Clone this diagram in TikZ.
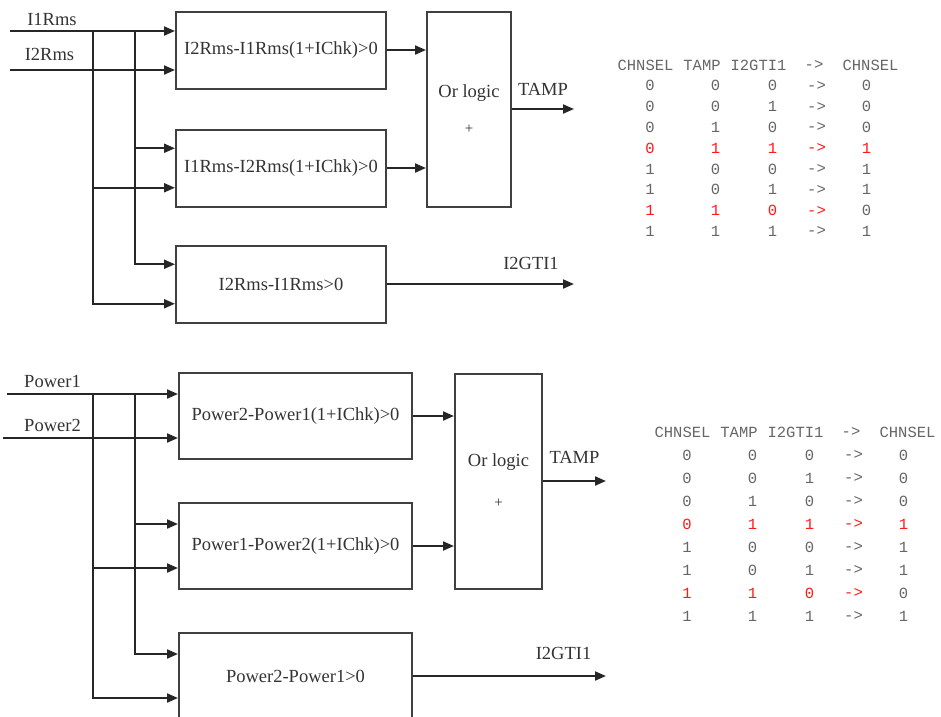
\documentclass[tikz,border=0pt]{standalone}
\usepackage{fontspec}
\setmainfont{Liberation Serif}
\newfontfamily\tabfont{Liberation Mono}
\usepackage{xcolor}
\usetikzlibrary{arrows.meta, positioning, calc}

\colorlet{tabgray}{black!60}
\colorlet{tabred}{red!90!white}

\begin{document}
\begin{tikzpicture}[
    x=1pt, y=-1pt,
    every node/.style={font=\fontsize{18.5}{22}\selectfont, text=black!80},
    blk/.style={draw=black!75, line width=2pt, minimum width=210pt,
                minimum height=77pt, inner sep=0pt},
    pblk/.style={blk, minimum width=233pt, minimum height=86pt},
    orblk/.style={blk, align=center},
    arr/.style={-{Triangle[length=11pt,width=9pt]}, line width=2pt, black!85},
    cell/.style={font=\tabfont\fontsize{15.5}{18}\selectfont, text=tabgray},
  ]
    \clip (0,0) rectangle (941,716);

    % I1Rms / I2Rms
    \node[blk] (b1) at (281,50)  {I2Rms-I1Rms(1+IChk)>0};
    \node[blk] (b2) at (281,168) {I1Rms-I2Rms(1+IChk)>0};
    \node[blk] (b3) at (281,284) {I2Rms-I1Rms>0};
    \node[orblk, minimum width=84pt, minimum height=195pt] (or1) at (469,109)
         {Or logic\\[14pt]{\fontsize{15}{16}\selectfont +}};

    % Power1 / Power2
    \node[pblk] (c1) at (295.5,416) {Power2-Power1(1+IChk)>0};
    \node[pblk] (c2) at (295.5,546) {Power1-Power2(1+IChk)>0};
    \node[pblk] (c3) at (295.5,676) {Power2-Power1>0};
    \node[orblk, minimum width=87pt, minimum height=215pt] (or2) at (498.5,481)
         {Or logic\\[19pt]{\fontsize{15}{16}\selectfont +}};

    % input points of each comparator
    \foreach \b in {b1,b2,b3,c1,c2,c3}{
      \coordinate (\b-u) at ($(\b.north west)!0.25!(\b.south west)$);
      \coordinate (\b-l) at ($(\b.north west)!0.75!(\b.south west)$);
    }

    % top inputs
    \node (l1) at (52,19)     {I1Rms};
    \node (l2) at (49.5,54.5) {I2Rms};
    \coordinate (s1) at (10,31);
    \coordinate (s2) at (10,70);
    \coordinate (j1) at (93,31);
    \coordinate (j2) at (135,31);
    \draw[arr] (s1) -- (b1.west |- s1);
    \draw[arr] (s2) -- (b1.west |- s2);
    \draw[arr] (j2) |- (b2-u);
    \draw[arr] (j1) |- (b2-l);
    \draw[arr] (j2) |- (b3-u);
    \draw[arr] (j1) |- (b3-l);

    % top outputs
    \draw[arr] (b1.east) -- (or1.west |- b1.east);
    \draw[arr] (b2.east) -- (or1.west |- b2.east);
    \draw[arr] (or1.east) -- ++(62,0) node[midway, above=9pt] (o1) {TAMP};
    \draw[arr] (b3.east) -- ++(187,0) node[pos=0.77, above=10pt] (o2) {I2GTI1};

    % bottom inputs
    \node (l3) at (52.5,381.5) {Power1};
    \node (l4) at (52.5,425.5) {Power2};
    \coordinate (s3) at (7,394);
    \coordinate (s4) at (3,438);
    \coordinate (j3) at (93,394);
    \coordinate (j4) at (135,394);
    \draw[arr] (s3) -- (c1.west |- s3);
    \draw[arr] (s4) -- (c1.west |- s4);
    \draw[arr] (j4) |- (c2-u);
    \draw[arr] (j3) |- (c2-l);
    \draw[arr] (j4) |- (c3-u);
    \draw[arr] (j3) |- (c3-l);

    % bottom outputs
    \draw[arr] (c1.east) -- (or2.west |- c1.east);
    \draw[arr] (c2.east) -- (or2.west |- c2.east);
    \draw[arr] (or2.east) -- ++(63,0) node[midway, above=13pt] (o3) {TAMP};
    \draw[arr] (c3.east) -- ++(193,0) node[pos=0.78, above=12.5pt] (o4) {I2GTI1};

    % truth tables
    \foreach \tx/\ty/\ts/\tn in {0/65/20.8/u, 37/432/23/d}{
      \foreach \h/\hx [count=\k] in {CHNSEL/645.5, TAMP/702, I2GTI1/758.5, ->/814, CHNSEL/870.5}
        \node[cell] (\tn-h\k) at (\hx+\tx, \ty) {\h};
      \foreach \a/\b/\c/\d/\ca/\cd [count=\i] in
          {0/0/0/0/tabgray/tabgray, 0/0/1/0/tabgray/tabgray,
           0/1/0/0/tabgray/tabgray, 0/1/1/1/tabred/tabred,
           1/0/0/1/tabgray/tabgray, 1/0/1/1/tabgray/tabgray,
           1/1/0/0/tabred/tabgray,  1/1/1/1/tabgray/tabgray}{
        \node[cell, text=\ca] (\tn-\i-1) at (650+\tx,   \ty+\i*\ts) {\a};
        \node[cell, text=\ca] (\tn-\i-2) at (715.5+\tx, \ty+\i*\ts) {\b};
        \node[cell, text=\ca] (\tn-\i-3) at (772.5+\tx, \ty+\i*\ts) {\c};
        \node[cell, text=\ca] (\tn-\i-4) at (816.5+\tx, \ty+\i*\ts) {->};
        \node[cell, text=\cd] (\tn-\i-5) at (866.5+\tx, \ty+\i*\ts) {\d};
      }
    }
\end{tikzpicture}
\end{document}
